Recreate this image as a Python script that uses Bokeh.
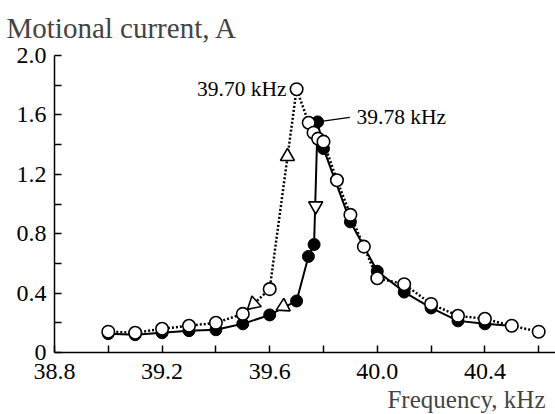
import math
from bokeh.plotting import figure
from bokeh.models import Range1d, FixedTicker, Title, Label
from bokeh.embed import file_html
from bokeh.resources import INLINE

# ---- data ----
# open circles, dotted line (peak at 39.70 kHz)
open_freq = [39.0, 39.1, 39.2, 39.3, 39.4, 39.5, 39.6, 39.70, 39.745, 39.763, 39.78,
             39.80, 39.85, 39.90, 39.95, 40.0, 40.1, 40.2, 40.3, 40.4, 40.5, 40.6]
open_current = [0.14, 0.133, 0.16, 0.18, 0.20, 0.26, 0.427, 1.773, 1.547, 1.48, 1.44,
                1.42, 1.16, 0.927, 0.713, 0.50, 0.46, 0.327, 0.247, 0.227, 0.18, 0.14]

# filled circles, solid line (peak at 39.78 kHz)
filled_freq = [39.0, 39.1, 39.2, 39.3, 39.4, 39.5, 39.6, 39.7, 39.744, 39.765, 39.778,
               39.80, 39.90, 40.0, 40.1, 40.2, 40.3, 40.4, 40.5]
filled_current = [0.127, 0.12, 0.133, 0.147, 0.153, 0.193, 0.253, 0.347, 0.647, 0.727, 1.553,
                  1.373, 0.88, 0.547, 0.407, 0.30, 0.213, 0.193, 0.18]

# direction arrows (triangles)
arrow_up_freq = [39.54, 39.666]          # on the dotted curve
arrow_up_current = [0.327, 1.32]
arrow_up_angle_deg = [132, 0]
arrow_down_freq = [39.651, 39.771]       # on the solid curve
arrow_down_current = [0.31, 0.987]
arrow_down_angle_deg = [-63, 0]

y_ticks = [0, 0.4, 0.8, 1.2, 1.6, 2.0]
y_tick_labels = ["0", "0.4", "0.8", "1.2", "1.6", "2.0"]
y_minor = [0.2, 0.6, 1.0, 1.4, 1.8]
x_ticks = [38.8, 39.2, 39.6, 40.0, 40.4]
x_tick_labels = ["38.8", "39.2", "39.6", "40.0", "40.4"]
x_minor = [39.0, 39.4, 39.8, 40.2, 40.6]

peak_open_label = "39.70 kHz"
peak_filled_label = "39.78 kHz"
y_title = "Motional current, A"
x_title = "Frequency, kHz"

FONT = "Liberation Serif"

p = figure(width=555, height=414, output_backend="svg", toolbar_location=None,
           x_range=Range1d(38.8, 40.6625), y_range=Range1d(0, 2.0),
           min_border_left=54, min_border_right=0, min_border_top=55, min_border_bottom=59)
p.outline_line_color = None
p.xgrid.visible = False
p.ygrid.visible = False
p.background_fill_color = "white"

# lines
p.line(filled_freq, filled_current, line_color="black", line_width=2)
p.line(open_freq, open_current, line_color="black", line_width=2.5, line_dash="2 2")

# markers
p.scatter(filled_freq, filled_current, marker="circle", size=12,
          fill_color="black", line_color="black", line_width=1)
p.scatter(open_freq, open_current, marker="circle", size=12.5,
          fill_color="white", line_color="black", line_width=1.6)
p.scatter(arrow_up_freq, arrow_up_current, marker="triangle", size=14,
          angle=[math.radians(a) for a in arrow_up_angle_deg],
          fill_color="white", line_color="black", line_width=1.6)
p.scatter(arrow_down_freq, arrow_down_current, marker="inverted_triangle", size=14,
          angle=[math.radians(a) for a in arrow_down_angle_deg],
          fill_color="white", line_color="black", line_width=1.6)

# annotations
i_open_peak = open_current.index(max(open_current))
i_filled_peak = filled_current.index(max(filled_current))
p.add_layout(Label(x=open_freq[i_open_peak], y=open_current[i_open_peak], x_offset=-10,
                   text=peak_open_label, text_align="right", text_baseline="middle",
                   text_font=FONT, text_font_size="21.5px", text_color="black"))
fx, fy = filled_freq[i_filled_peak], filled_current[i_filled_peak]
p.segment(x0=[fx + 0.02], y0=[fy + 0.005], x1=[fx + 0.12], y1=[fy + 0.03],
          line_color="black", line_width=1.3)
p.add_layout(Label(x=fx + 0.145, y=fy + 0.03, text=peak_filled_label,
                   text_align="left", text_baseline="middle",
                   text_font=FONT, text_font_size="21.5px", text_color="black"))

# axes
for ax in (p.xaxis[0], p.yaxis[0]):
    ax.axis_line_color = "black"
    ax.axis_line_width = 1.5
    ax.major_tick_line_color = "black"
    ax.minor_tick_line_color = "black"
    ax.major_tick_line_width = 1.5
    ax.minor_tick_line_width = 1.5
    ax.major_tick_in = 7
    ax.major_tick_out = 0
    ax.minor_tick_in = 7
    ax.minor_tick_out = 0
    ax.major_label_text_font = FONT
    ax.major_label_text_font_size = "24px"
    ax.major_label_text_color = "black"

p.yaxis[0].ticker = FixedTicker(ticks=y_ticks, minor_ticks=y_minor)
p.yaxis[0].major_label_overrides = dict(zip(y_ticks, y_tick_labels))
p.yaxis[0].major_label_standoff = 8
p.xaxis[0].ticker = FixedTicker(ticks=x_ticks, minor_ticks=x_minor)
p.xaxis[0].major_label_overrides = dict(zip(x_ticks, x_tick_labels))
p.xaxis[0].major_label_standoff = 11

# y-axis title above the axis
p.title.text = y_title
p.title.align = "left"
p.title.offset = -48
p.title.text_font = FONT
p.title.text_font_size = "29px"
p.title.text_font_style = "normal"
p.title.vertical_align = "top"
p.title.standoff = 20

p.add_layout(Title(text=x_title, align="right", offset=10,
                   text_font=FONT, text_font_size="25px", text_font_style="normal",
                   standoff=4), "below")

open("out.html", "w").write(file_html(p, INLINE))
